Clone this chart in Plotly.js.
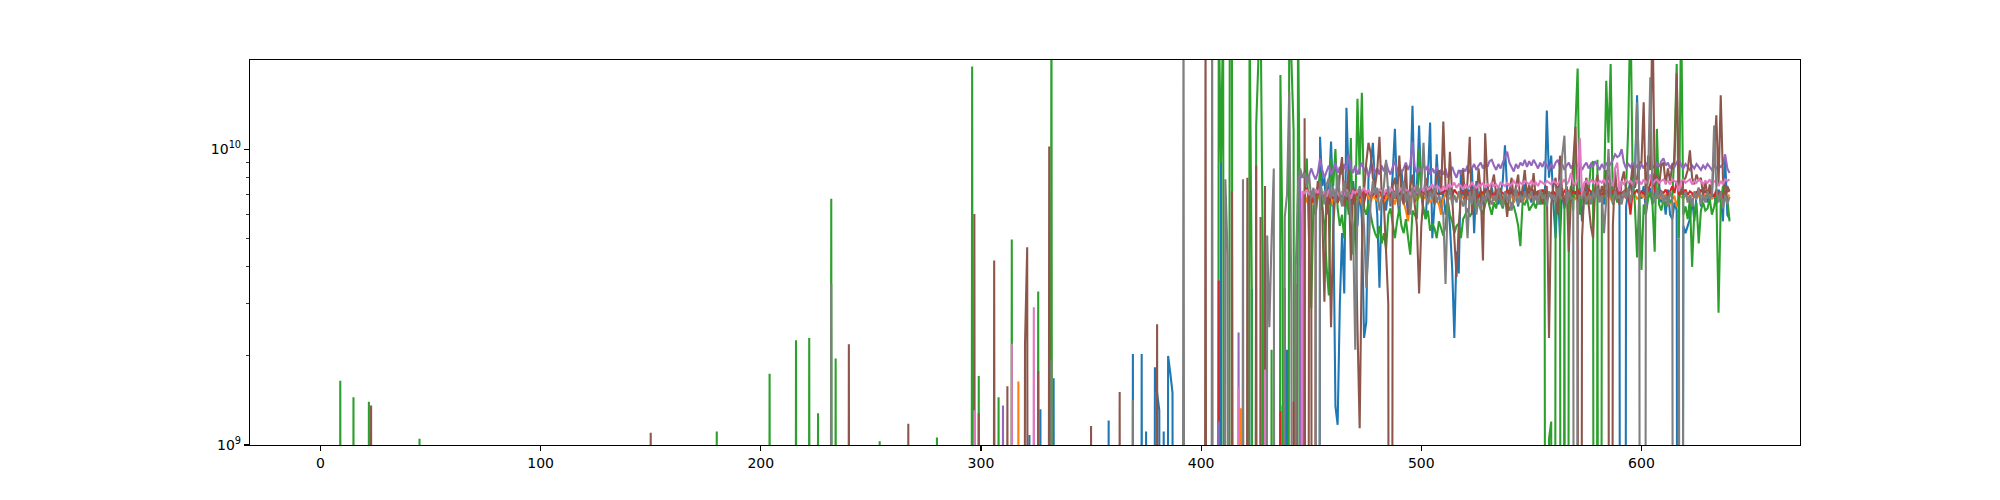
<!DOCTYPE html>
<html>
<head>
<meta charset="utf-8">
<script src="https://cdn.plot.ly/plotly-3.0.1.min.js"></script>
<style>html,body{margin:0;padding:0;background:#fff;}#chart{width:2000px;height:500px;}</style>
</head>
<body>
<div id="chart"></div>
<script>
// Values in units of 1e9; 0 = below the visible axis (drawn off the bottom)
const N_POINTS = 641;           // x = 0 .. 640
const DENSE_START = 390;        // dense arrays cover x = 390 .. 640
const xTickVals = [0, 100, 200, 300, 400, 500, 600];
const yTickVals = [1e9, 1e10];
const yTickText = ['10<sup>9</sup>', '10<sup>10</sup>'];
const yMinorVals = [2e9, 3e9, 4e9, 5e9, 6e9, 7e9, 8e9, 9e9];
const seriesColors = ['#1f77b4', '#ff7f0e', '#2ca02c', '#d62728', '#9467bd', '#8c564b', '#e377c2', '#7f7f7f'];

// ---- series 0 (blue)
const blueSparse = [[322,1.08],[327,1.32],[333,1.68],[358,1.21],[369,2.03],[373,2.03],[375,1.11],[379,1.83],[380,1.5],[381,1.31],[383,1.11],[385,2.0],[386,1.75],[387,1.5]];
const blueDense = [
0,0,0,0,0,0,0,0,0,0,
0,0,0,0,0,0,0,0,0,9.4,
0,0,0,0,0,0,0,0,0,0,
0,0,0,3.36,0,0,0,0,0,0,
0,0,0,0,0,0,1.36,0,0,2.1,
0,0,0,0,0,0,0,0,0,0,
0,0,0,0,11.0,7.5,8.0,6.0,7.2,10.6,
6.5,1.35,1.17,3.0,5.2,3.25,13.8,8.0,6.0,7.8,
6.5,5.5,7.4,5.8,2.3,2.6,8.0,8.8,10.5,7.5,
6.0,3.4,6.8,7.0,6.2,7.5,6.4,8.2,11.7,7.0,
6.0,8.5,6.8,7.2,6.0,7.5,14.0,6.6,7.5,12.0,
7.0,6.2,5.8,8.0,12.3,5.0,6.5,9.6,7.0,6.3,
7.2,6.0,6.8,5.5,4.0,2.3,4.5,3.8,8.5,7.0,
6.5,7.4,6.6,8.6,5.2,7.8,6.8,7.2,6.5,7.5,
7.0,6.6,7.4,6.8,7.2,6.5,7.0,7.8,10.3,7.2,
6.8,7.4,6.6,7.0,6.4,7.2,6.9,7.6,6.8,7.0,
6.6,7.3,6.9,6.5,7.2,6.8,6.5,13.5,8.0,9.5,
6.5,5.0,7.5,5.0,7.4,6.3,7.0,6.6,7.5,6.9,
7.2,6.8,7.4,5.7,7.0,7.6,6.5,7.2,6.8,7.0,
7.4,6.7,7.1,6.5,7.3,6.9,7.5,6.8,7.0,7.4,
6.6,0,0,6.4,7.2,7.8,7.0,8.0,15.2,7.0,
6.8,7.5,6.2,7.0,7.4,6.5,7.2,6.8,7.6,6.6,
7.0,6.0,7.3,6.0,5.8,6.6,6.2,0,0,5.5,
5.2,5.5,5.8,6.8,5.7,7.0,7.4,6.4,6.8,7.0,
6.6,7.2,6.8,7.0,6.5,7.3,6.9,5.7,9.3,6.0,
5.8];

// ---- series 1 (orange)
const orangeSparse = [[317,1.64]];
const orangeDense = [
0,0,0,0,0,0,0,0,0,0,
0,0,0,0,0,0,0,0,0,0,
0,0,0,0,0,0,0,0,1.33,0,
0,0,0,0,0,0,0,0,0,0,
0,0,0,0,0,0,0,0,0,0,
0,0,0,0,0,0,6.8,7.0,6.6,7.2,
6.9,6.5,7.1,6.8,7.0,6.6,6.9,7.2,6.7,6.4,
6.9,7.1,6.6,6.8,7.0,6.5,6.9,7.2,6.8,6.6,
7.0,6.7,6.9,6.5,6.8,7.1,6.9,6.6,7.0,6.8,
6.7,7.0,6.9,6.6,6.8,7.1,6.8,6.9,6.5,7.0,
6.8,6.9,6.6,6.2,5.7,6.8,6.9,7.0,6.7,6.9,
7.0,6.8,6.9,7.0,6.6,6.8,7.0,6.7,6.5,6.0,
6.8,7.0,6.9,6.8,7.0,6.9,6.7,7.0,6.8,6.9,
7.0,6.8,6.9,7.1,6.8,6.9,7.0,6.8,7.1,6.9,
6.8,7.0,6.9,6.7,7.0,6.9,7.1,6.8,6.9,7.0,
6.8,7.0,6.6,6.9,7.1,6.8,6.6,6.9,7.0,6.8,
7.0,6.9,6.8,7.0,6.7,6.9,7.1,6.8,7.0,6.9,
6.8,7.0,6.9,7.1,6.8,6.9,7.0,6.6,6.9,7.0,
6.8,7.0,6.9,6.8,7.1,6.9,7.0,6.8,6.9,7.0,
6.9,7.0,6.8,7.0,6.9,7.1,6.8,6.6,7.0,6.9,
7.0,6.8,6.9,7.0,6.8,6.9,7.1,7.0,6.8,6.9,
7.0,6.9,6.8,7.1,6.9,7.0,6.8,6.9,7.0,6.8,
6.9,7.0,6.8,6.5,6.8,6.9,6.4,7.0,6.9,6.8,
7.0,6.9,6.8,7.0,6.9,6.8,7.0,6.9,7.1,6.8,
6.9,7.0,6.8,6.9,7.0,6.8,6.9,7.0,6.8,6.9,
7.0];

// ---- series 2 (green)
const greenSparse = [[9,1.65],[15,1.45],[22,1.4],[45,1.05],[180,1.11],[204,1.74],[216,2.26],[222,2.3],[226,1.28],[232,6.8],[234,1.96],[254,1.03],[280,1.06],[296,19],[299,1.71],[308,1.45],[314,4.95],[326,3.3],[332,40]];
const greenDense = [
0,0,0,0,0,0,0,0,0,0,
0,0,0,0,0,0,0,0,30,9.0,
30,0,0,30,25,0,0,0,0,0,
0,0,30,3.4,0,12.0,20,30,4.4,0,
0,0,2.1,0,0,0,17.8,4.5,0,0,
30,20,11.5,0,30,4.0,6.0,7.0,9.3,5.0,
2.9,6.5,6.0,7.0,8.4,6.5,5.5,4.0,3.2,9.3,
7.5,10.0,6.3,5.5,6.0,5.0,7.2,6.0,10.9,4.4,
6.0,14.8,8.2,15.5,6.3,6.0,6.6,6.0,5.5,5.2,
5.0,5.5,4.8,5.2,4.6,6.0,6.3,5.6,5.0,5.7,
6.3,5.5,5.2,5.8,5.0,4.4,6.2,6.0,5.8,10.0,
7.0,6.3,5.8,6.2,5.3,5.6,5.4,5.0,5.7,5.4,
5.1,5.5,6.7,6.0,5.7,5.2,5.5,5.6,5.0,5.8,
6.0,6.3,5.9,6.1,6.4,7.0,6.5,6.3,6.0,6.5,
6.9,6.4,6.0,6.6,6.3,7.0,6.6,6.3,6.8,6.5,
6.2,6.6,6.4,6.0,5.5,4.7,6.6,6.5,6.8,6.2,
6.4,6.6,6.3,6.8,6.5,7.0,7.3,0,1.05,1.2,
0,7.0,6.6,7.2,0,6.8,0,6.5,7.5,6.2,
12.0,18.7,6.0,6.8,7.0,6.5,7.2,8.8,9.1,0,
9.2,0,6.5,7.0,17.0,10.5,19.4,6.5,7.0,6.6,
7.2,6.8,7.0,7.4,12.0,30,8.0,6.5,4.3,7.0,
3.9,6.5,6.0,6.8,7.2,6.5,4.5,11.7,6.5,6.2,
6.8,6.4,7.0,6.6,6.8,10.0,19.4,5.0,30,6.0,
6.4,5.8,6.8,4.0,6.2,6.6,4.8,6.2,6.6,6.2,
6.3,6.8,6.0,6.4,7.0,2.8,6.5,7.5,7.2,6.8,
5.7];

// ---- series 3 (red)
const redSparse = [];
const redDense = [
0,0,0,0,0,0,0,0,0,0,
0,0,0,0,0,0,0,0,3.6,0,
0,0,0,0,0,0,0,0,0,0,
0,0,0,0,0,0,0,0,0,0,
0,0,0,0,0,0,1.3,0,0,0,
0,0,1.4,0,0,0,0,7.2,7.4,6.9,
7.0,6.6,7.3,7.0,7.4,6.8,7.1,7.2,6.5,7.0,
6.8,7.2,6.6,7.0,6.9,7.4,7.0,6.7,7.1,6.5,
7.3,7.0,6.8,7.2,6.6,7.1,7.3,6.9,7.0,7.2,
6.9,7.3,7.0,6.8,7.2,7.0,6.9,7.3,7.1,6.8,
7.1,7.3,6.9,7.2,7.0,7.4,7.1,6.9,7.2,7.0,
7.3,7.1,7.0,7.4,7.2,6.9,7.3,7.1,7.0,7.2,
7.1,7.4,7.0,7.2,6.9,7.3,7.1,7.0,7.2,7.1,
7.3,7.0,7.2,7.1,7.4,7.0,6.9,7.2,7.1,7.3,
7.0,7.2,7.1,6.9,7.3,7.0,7.2,7.1,7.0,7.3,
7.1,7.2,7.0,7.3,7.1,6.9,7.2,7.0,7.2,7.1,
7.3,7.0,7.1,7.2,7.0,7.3,7.1,7.2,7.0,7.1,
7.2,7.0,7.3,7.1,7.0,7.2,7.4,7.1,7.0,7.2,
7.1,7.3,7.0,7.2,7.1,7.0,7.3,7.2,7.0,7.1,
7.4,7.1,7.0,7.2,7.1,7.3,7.0,7.2,7.1,7.3,
7.0,7.1,7.2,6.8,7.0,6.0,7.2,7.1,7.3,7.0,
7.2,7.1,7.0,7.3,7.6,8.3,7.2,7.1,7.0,7.2,
7.1,7.3,7.0,7.2,7.5,7.1,7.8,7.0,7.2,7.1,
7.3,7.0,7.2,7.1,6.9,7.2,7.0,7.3,7.1,7.2,
7.0,7.2,7.1,6.9,7.3,7.0,7.2,6.8,7.1,7.2,
7.2];

// ---- series 4 (purple)
const purpleSparse = [[310,1.36]];
const purpleDense = [
0,0,0,0,0,0,0,0,0,0,
0,0,0,0,0,0,0,0,1.2,0,
0,0,0,0,0,0,0,2.4,0,0,
0,0,0,0,0,0,0,0,0,0,
0,0,0,0,0,0,0,0,0,0,
0,0,0,0,0,8.3,8.0,8.4,7.8,8.1,
8.6,8.2,7.9,8.3,9.3,8.5,8.0,8.4,8.8,8.2,
8.5,9.0,8.3,8.7,8.2,8.9,8.4,9.6,8.6,8.3,
8.8,8.2,8.6,9.0,8.4,8.7,8.1,8.5,8.9,8.3,
8.6,8.2,8.8,8.4,9.0,8.5,8.2,8.7,9.1,8.4,
8.8,8.3,8.6,9.0,8.5,8.9,10.6,8.7,8.3,8.6,
8.4,8.9,8.5,8.8,8.2,8.6,8.3,8.7,8.1,8.5,
8.2,8.6,8.0,8.4,8.7,8.3,8.0,8.5,8.2,8.6,
8.4,8.8,8.3,8.6,8.9,8.5,8.8,9.0,8.6,8.9,
8.7,9.1,9.2,8.8,8.5,8.9,8.6,9.0,9.4,9.8,
9.0,8.7,8.4,8.9,8.6,9.0,8.8,9.2,8.7,9.1,
8.8,9.2,8.9,8.6,9.0,8.7,9.1,8.8,8.5,8.9,
8.6,9.0,9.2,8.7,8.9,8.5,8.8,9.0,8.6,8.9,
9.1,8.7,8.9,8.5,8.8,9.0,8.6,8.9,8.7,9.1,
8.8,8.5,8.9,8.6,9.0,8.7,8.9,9.2,9.6,9.4,
9.5,10.0,9.0,8.6,8.9,8.7,9.0,8.6,8.8,8.5,
8.9,8.6,9.0,8.7,8.9,8.8,8.6,9.0,8.7,9.1,
9.3,8.8,9.0,8.6,8.9,8.7,9.0,9.3,8.8,8.6,
8.9,8.7,8.5,8.8,8.6,8.9,8.7,8.5,8.8,8.6,
8.9,8.7,8.5,8.8,8.6,8.8,8.7,8.9,9.6,8.6,
8.3];

// ---- series 5 (brown)
const brownSparse = [[23,1.36],[150,1.1],[240,2.19],[267,1.18],[297,6.03],[299,1.28],[306,4.2],[312,1.58],[320,2.2],[321,4.66],[326,1.78],[331,10.2],[350,1.16],[363,1.51],[380,2.56]];
const brownDense = [
0,0,0,0,0,0,0,0,0,0,
0,0,30,0,0,0,0,0,0,0,
0,0,0,0,7.2,0,0,0,0,0,
0,8.0,0,0,0,8.8,0,5.9,0,7.5,
0,0,0,0,0,0,0,0,3.4,0,
0,0,0,3.5,0,0,0,12.7,0,6.8,
7.2,0,6.5,7.8,7.0,6.2,3.05,7.6,6.0,2.5,
5.5,7.2,6.6,8.2,9.4,6.4,7.0,8.5,4.2,7.4,
6.8,2.5,1.14,4.5,7.2,9.0,10.5,9.7,8.0,7.5,
8.5,11.0,7.0,6.5,4.5,3.0,0,7.5,8.0,6.8,
9.5,7.0,6.5,8.8,6.0,7.5,8.2,6.5,5.5,3.25,
5.5,7.0,8.0,6.8,7.5,7.2,6.5,8.0,8.5,7.0,
12.4,7.5,6.5,9.8,7.0,5.0,3.7,5.5,7.0,8.5,
6.5,7.8,11.0,6.0,7.5,6.5,8.6,7.2,4.2,11.3,
7.8,6.5,7.6,8.2,7.0,6.8,7.4,6.5,7.0,5.9,
7.2,8.0,6.8,7.5,8.2,6.6,7.4,8.5,6.9,7.6,
7.0,8.3,6.8,7.2,7.0,6.5,7.2,7.5,2.3,6.5,
7.5,8.0,6.0,9.5,7.0,6.5,7.5,4.5,7.0,9.0,
11.9,6.0,0,5.0,7.2,8.0,6.5,5.5,5.0,7.5,
8.2,6.8,7.5,7.0,8.5,8.0,0,5.5,8.5,7.0,
6.5,7.8,8.4,7.2,6.8,7.6,8.8,7.4,8.0,9.0,
9.0,14.4,6.5,9.5,8.5,30,7.5,8.2,7.5,8.8,
9.0,7.6,8.6,7.8,8.8,9.0,18.0,7.5,7.0,7.8,
8.0,8.5,9.9,8.0,7.6,8.2,7.8,8.0,7.0,7.8,
6.9,7.6,7.0,9.5,13.0,7.5,15.2,8.0,6.8,7.5,
7.2];

// ---- series 6 (pink)
const pinkSparse = [[297,1.31],[314,2.2],[324,2.92]];
const pinkDense = [
0,0,0,0,0,0,0,0,0,0,
0,0,0,0,0,0,0,0,0,0,
0,0,0,0,0,0,0,1.57,0,0,
0,0,0,0,0,0,0,0,0,1.8,
0,0,0,0,0,0,0,0,0,0,
0,0,0,0,0,0,7.2,7.1,7.3,7.0,
7.2,6.9,7.3,7.1,7.4,7.0,7.2,6.9,7.3,7.1,
7.0,7.3,7.1,6.9,7.2,7.0,7.3,7.1,6.8,7.2,
7.1,7.3,7.0,7.2,7.4,7.1,7.3,7.0,7.2,7.3,
7.1,7.3,7.2,7.0,7.3,7.1,7.4,7.2,7.0,7.3,
7.2,7.4,7.1,7.3,7.2,7.0,7.3,7.4,7.1,7.3,
7.4,7.2,7.5,7.3,7.4,7.6,7.3,7.5,7.4,7.2,
7.5,7.3,7.6,7.4,7.5,7.7,7.4,7.6,7.5,7.3,
7.6,7.4,7.5,7.7,7.5,7.4,7.6,7.5,7.7,7.4,
7.6,7.5,7.7,7.5,7.6,7.4,7.7,7.6,7.5,7.7,
7.5,7.6,7.8,7.6,7.5,7.7,7.6,7.8,7.7,7.6,
7.8,7.6,7.7,7.5,7.8,7.7,7.6,7.8,7.7,7.6,
7.8,7.7,7.6,7.8,7.7,7.9,7.6,7.8,8.3,7.7,
7.6,7.9,10.9,7.0,7.7,7.8,7.6,7.9,7.7,7.8,
7.6,7.8,7.7,7.9,7.6,7.8,7.7,7.5,8.6,9.0,
7.2,7.8,7.6,7.9,7.7,7.8,7.6,7.9,7.7,7.8,
7.6,7.9,7.7,7.8,8.2,7.6,7.8,7.9,7.7,7.8,
7.9,7.7,7.8,7.6,7.9,7.8,7.7,7.2,7.8,7.9,
7.7,7.8,7.9,7.6,7.8,7.7,7.9,7.8,7.6,7.8,
7.7,7.9,7.6,7.8,7.7,7.5,7.8,7.6,7.9,7.8,
7.9];

// ---- series 7 (gray)
const graySparse = [[232,3.5],[332,1.94],[369,1.42]];
const grayDense = [
0,0,40,0,0,0,0,0,0,0,
0,0,0,0,0,30,0,0,0,0,
0,7.9,4.4,0,0,0,0,0,0,7.9,
0,0,0,0,0,0,0,0,0,0,
5.1,2.5,5.0,8.6,0,0,0,0,5.9,7.0,
15.6,3.0,0,4.0,7.5,8.6,8.0,8.3,7.5,8.2,
6.8,7.4,6.2,0,7.8,7.0,6.5,7.6,8.0,6.8,
7.4,6.6,8.2,7.0,6.4,7.8,6.9,7.2,6.0,5.5,
2.1,6.5,7.5,6.8,5.5,3.4,4.5,6.6,7.8,7.0,
7.4,6.2,6.8,7.5,9.2,7.0,6.5,7.2,6.8,7.6,
6.4,7.0,7.8,6.6,7.2,6.0,7.4,6.8,7.6,7.0,
7.5,10.5,7.0,6.5,7.2,6.8,7.4,6.6,7.0,6.5,
6.0,3.5,6.8,7.4,6.5,7.0,6.6,7.2,6.8,6.4,
6.8,5.0,7.2,6.5,7.4,6.0,6.8,6.2,7.0,6.6,
7.2,6.8,6.5,7.0,6.6,7.4,6.9,6.4,7.2,6.7,
7.0,6.2,6.8,7.4,6.5,7.0,6.6,7.2,6.8,6.9,
7.2,6.6,7.0,6.5,7.3,6.8,7.0,6.4,7.2,6.8,
7.0,6.6,7.4,6.8,9.5,11.1,6.5,7.2,6.8,6.8,
0,6.5,7.0,6.8,7.2,6.6,7.0,6.5,7.2,6.8,
7.4,6.6,7.0,5.2,6.8,10.0,7.0,6.6,7.2,6.8,
7.0,6.5,7.2,6.8,7.4,6.6,7.2,8.0,14.4,7.0,
0,0,6.5,8.0,17.5,7.0,6.6,7.4,6.8,7.2,
6.6,7.0,6.4,7.2,6.8,0,0,5.0,0,6.8,
7.2,6.6,7.0,6.4,7.2,6.8,7.4,6.5,7.0,6.6,
7.2,6.8,7.0,12.0,7.4,6.6,7.2,6.3,7.0,6.5,
6.9];

const seriesList = [
  [blueSparse, blueDense], [orangeSparse, orangeDense], [greenSparse, greenDense], [redSparse, redDense],
  [purpleSparse, purpleDense], [brownSparse, brownDense], [pinkSparse, pinkDense], [graySparse, grayDense]
];

const FLOOR = 1e-6; // stand-in for non-positive values on the log axis (far below the view)
const xs = Array.from({length: N_POINTS}, (_, i) => i);
function build(sparse, dense) {
  const y = new Array(N_POINTS).fill(0);
  sparse.forEach(([x, v]) => { y[x] = v; });
  dense.forEach((v, i) => { if (DENSE_START + i < N_POINTS) y[DENSE_START + i] = v; });
  return y.map(v => (v > 0 ? v : FLOOR) * 1e9);
}

const traces = seriesList.map(([sp, de], k) => ({
  type: 'scatter', mode: 'lines', x: xs, y: build(sp, de),
  line: {color: seriesColors[k], width: 2.08, simplify: false},
  hoverinfo: 'skip', showlegend: false
}));

const font = {family: 'DejaVu Sans, sans-serif', size: 14, color: '#000'};
const layout = {
  width: 2000, height: 500,
  margin: {l: 250, r: 200, t: 60, b: 55, autoexpand: false},
  paper_bgcolor: '#fff', plot_bgcolor: '#fff',
  font: font, showlegend: false,
  xaxis: {
    range: [-32, 672], tickmode: 'array', tickvals: xTickVals, ticktext: xTickVals.map(String),
    ticks: 'outside', ticklen: 5, tickwidth: 1.1, tickcolor: '#000',
    showline: true, mirror: true, linecolor: '#000', linewidth: 1.1,
    showgrid: false, zeroline: false, tickfont: font
  },
  yaxis: {
    type: 'log', range: [9, Math.log10(2e10)],
    tickmode: 'array', tickvals: yTickVals, ticktext: yTickText,
    ticks: 'outside', ticklen: 5, tickwidth: 1.1, tickcolor: '#000',
    minor: {tickmode: 'array', tickvals: yMinorVals, ticks: 'outside', ticklen: 3, tickwidth: 0.8, tickcolor: '#000', showgrid: false},
    showline: true, mirror: true, linecolor: '#000', linewidth: 1.1,
    showgrid: false, zeroline: false, tickfont: font
  }
};

Plotly.newPlot('chart', traces, layout, {staticPlot: true, displayModeBar: false});
</script>
</body>
</html>
